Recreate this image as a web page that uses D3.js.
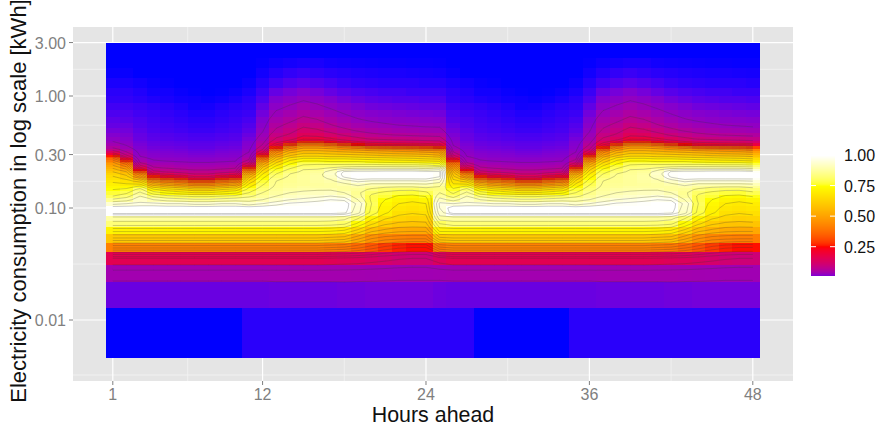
<!DOCTYPE html>
<html><head><meta charset="utf-8">
<script src="https://cdn.jsdelivr.net/npm/d3@7/dist/d3.min.js"></script>
<style>html,body{margin:0;padding:0;background:#fff}svg{display:block}text{font-family:"Liberation Sans",Arial,sans-serif}</style>
</head><body><svg id="c" width="876" height="428"></svg>
<script>
const hourTicks=[1,12,24,36,48];
const kwhTicks=[3,1,0.3,0.1,0.01];
const kwhTickLabels=["3.00","1.00","0.30","0.10","0.01"];
const legendTicks=[1,0.75,0.5,0.25];
const legendRange=[0.022,1];
// kWh edges of the raster rows, lowest first
const rowEdges=[.0046,.0128,.022,.0312,.0404,.0496,.0588,.068,.0772,.0864,.0956,.1048,.114,.1232,.1324,.1416,.1508,.16,.1692,.1784,.1876,.1968,.206,.2152,.2244,.2336,.2428,.252,.2612,.2704,.2796,.2888,.298,.31,.325,.34,.36,.38,.40,.43,.47,.52,.58,.66,.76,.88,1.0,1.2,1.45,1.8,2.2,3.0];
// lowest row over all 48 hours (per mille density)
const lowestRow=[0,0,0,0,0,0,0,0,0,0,3,3,3,3,3,3,3,3,3,3,3,3,3,3,3,3,3,0,0,0,0,0,0,0,3,3,3,3,3,3,3,3,3,3,3,3,3,3];
// which profile each of the 48 hours shows
const hourProfile=[0,1,2,3,4,5,6,7,8,9,10,11,12,13,14,15,16,17,18,19,20,21,22,23,24,1,2,3,4,5,6,7,8,9,10,11,12,13,14,15,16,17,18,19,20,21,22,23];
// rows 2-11 (up to about 0.105 kWh) per profile, per mille
const lowerRows=[
[14,47,160,420,600,720,830,880,1000,1000],[14,47,160,420,600,720,830,880,1000,1000],[14,47,160,420,600,720,830,880,1000,1000],[14,47,160,420,600,720,830,880,1000,1000],[14,47,160,420,600,720,830,880,1000,1000],
[14,47,160,420,600,720,830,880,1000,1000],[14,47,160,420,600,720,830,880,1000,1000],[14,47,160,420,600,720,830,880,1000,1000],[14,47,160,420,600,720,830,880,1000,1000],[14,47,160,420,600,720,830,880,1000,1000],
[14,47,160,420,600,720,830,880,1000,1000],[14,47,160,420,600,720,830,880,1000,1000],[15,48,160,420,600,720,830,880,1000,1000],[15,48,160,420,600,720,830,880,1000,1000],[15,48,160,420,600,720,830,880,1000,1000],
[15,48,160,420,600,720,830,880,1000,1000],[15,48,155,410,590,715,825,880,1000,1000],[16,48,150,400,580,700,810,870,990,1000],[16,47,145,370,520,640,740,810,920,930],[17,46,135,330,460,570,660,720,780,790],
[17,45,125,290,430,540,610,660,710,720],[17,44,115,265,420,520,590,635,665,685],[17,44,110,255,415,515,585,625,655,675],[17,44,110,255,415,515,590,630,665,685],[15,45,140,400,590,720,800,880,930,950]];
// rows above 0.105 kWh per profile, per mille
const upperRows=[
[940,860,800,770,750,730,710,690,670,650,630,600,570,540,510,480,450,410,370,320,260,190,140,90,62,46,36,29,22,17,13,11,8,6,4,3,1.5,.5,0,0],
[950,880,830,790,760,730,700,670,640,610,580,550,510,470,430,390,340,270,210,160,120,90,70,52,40,32,27,23,19,16,13,10,8,6,4,3,1.5,.5,0,0],
[960,930,900,860,820,760,690,630,550,470,410,320,240,170,120,85,65,52,44,38,33,29,26,23,20,18,16,14,13,11,9,8,6,5,3,2,1,0,0,0],
[960,900,840,770,710,630,550,460,350,260,180,125,95,75,60,50,42,36,32,28,25,23,20,18,16,14,13,11,10,8,7,6,5,4,2,1,.5,0,0,0],
[950,880,810,740,670,590,500,410,300,210,150,105,82,65,54,45,38,33,29,26,23,21,19,17,15,13,12,10,9,7,6,5,4,3,1.5,1,.3,0,0,0],
[950,870,800,720,650,560,470,380,270,190,130,95,75,60,50,42,36,31,28,25,22,20,18,16,14,12,11,9,8,6,5,4,3,2,1,.5,0,0,0,0],
[940,860,790,700,620,530,430,320,210,150,110,85,68,56,47,40,34,29,26,23,20,18,16,14,12,11,10,8,7,5,4,3,2,1,.8,.2,0,0,0,0],
[940,860,790,700,620,530,430,320,210,150,110,85,68,56,47,40,34,29,26,23,20,18,16,14,12,11,10,8,7,5,4,3,2,1.2,.5,0,0,0,0,0],
[950,870,800,720,650,560,470,380,270,190,130,95,75,60,50,42,36,31,28,25,22,20,18,16,14,12,11,9,8,6,5,4,3,2,.8,.2,0,0,0,0],
[950,880,810,740,670,590,500,410,300,210,150,105,82,65,54,45,38,33,29,26,23,21,19,17,15,13,12,10,9,7,6,5,4,3,1.5,.6,0,0,0,0],
[930,880,840,800,770,740,700,660,620,570,510,440,360,270,190,135,100,78,62,52,45,40,34,29,25,22,20,17,14,11,9,7,5,4,3,1.5,.6,0,0,0],
[950,900,870,850,830,810,790,770,750,725,700,670,640,610,570,530,490,440,390,330,270,200,150,110,85,70,58,48,40,32,26,21,16,12,8,5,2.5,1,.3,0],
[970,930,900,880,870,860,855,850,840,820,800,780,760,730,700,670,640,610,580,550,510,470,430,350,260,185,145,115,95,75,62,50,38,28,20,13,6,2.5,.8,0],
[985,950,920,900,885,870,865,860,860,855,850,830,810,790,770,750,725,700,670,640,600,570,530,480,410,280,190,140,115,95,78,62,48,36,26,17,9,4,1.2,0],
[990,960,930,910,890,880,870,870,870,870,865,860,850,830,810,790,770,740,710,670,640,610,570,530,480,390,270,190,150,125,100,78,60,45,32,21,11,5,1.5,0],
[995,970,940,915,895,880,875,880,885,885,880,870,855,835,815,795,770,740,710,670,640,610,570,530,480,390,270,185,145,115,90,70,52,38,27,17,9,4,1.5,0],
[1000,980,950,920,895,880,880,890,905,920,930,920,890,850,820,790,760,730,700,660,630,600,560,520,460,350,230,165,125,95,72,55,42,30,21,13,7,3,1,0],
[1000,975,935,900,880,880,895,925,965,990,995,985,940,870,825,790,760,730,700,660,630,590,550,500,430,290,190,140,105,78,58,44,33,24,16,10,5,2.5,.8,0],
[940,900,870,860,870,890,920,960,990,1000,1000,990,950,880,830,790,760,730,690,650,620,580,540,490,400,250,165,120,90,65,48,36,27,19,13,8,4,2,.7,0],
[800,790,790,810,840,870,900,945,985,1000,1000,990,950,880,830,790,750,720,680,640,610,570,530,470,350,210,145,105,78,56,42,31,23,16,11,7,3.5,1.8,.6,0],
[730,750,770,790,820,860,900,945,985,1000,1000,995,950,880,830,780,745,710,670,640,600,560,520,460,340,200,140,100,72,52,38,28,21,15,10,6,3,1.5,.5,0],
[700,720,745,775,810,855,900,945,985,1000,1000,995,950,880,825,780,740,705,665,630,595,555,510,450,330,195,135,95,68,48,35,26,19,14,9,6,3,1.5,.5,0],
[690,710,740,770,810,855,900,945,985,1000,1000,995,950,880,825,780,740,700,660,625,590,550,505,445,320,190,130,92,65,46,33,25,18,13,9,5,3,1.3,.4,0],
[700,725,755,790,825,865,905,950,985,1000,1000,990,940,870,820,770,730,690,650,615,580,540,490,420,300,180,125,88,62,43,31,23,17,12,8,5,2.5,1.2,.4,0],
[960,920,880,850,840,850,880,920,960,985,990,985,950,890,800,760,720,680,640,600,560,520,480,410,270,170,120,85,60,42,30,22,16,12,8,5,2.5,1,.3,0]];
const contourLevels=[.035,.07,.11,.16,.2,.25,.3,.35,.4,.45,.5,.55,.6,.65,.7,.75,.8,.85,.9,.95,.98];

const svg=d3.select("#c");
const panel={l:73,r:793,t:27,b:381};
const x=d3.scaleLinear().domain([1,48]).range([112.8,752.8]);
const y=d3.scaleLog().domain([0.01,1]).range([320,96]);
const hours=d3.range(1,49);
const colorHigh=d3.scaleLinear().domain([.25,.75,1]).range(["red","yellow","white"]).interpolate(d3.interpolateLab);
const colorLow=d3.interpolateLab("blue","red");
const lowT=v=>v>=.02?Math.pow(v/.25,2/3):Math.pow(.02/.25,2/3)*Math.pow(Math.max(v,0)/.02,1.2);
const fill=v=>v<.25?colorLow(lowT(v)):colorHigh(v);

const cellValue=(h,r)=>{
  if(r===0) return lowestRow[h]/1000;
  const p=hourProfile[h];
  return (r<=10?lowerRows[p][r-1]:upperRows[p][r-11])/1000;
};
const nRows=rowEdges.length-1;

svg.append("rect").attr("x",panel.l).attr("y",panel.t).attr("width",panel.r-panel.l).attr("height",panel.b-panel.t).attr("fill","#e5e5e5");
const minorY=[.00323,.0316,.173,.548,1.73];
svg.append("g").selectAll("line").data(minorY).join("line").attr("x1",panel.l).attr("x2",panel.r).attr("y1",d=>y(d)).attr("y2",d=>y(d)).attr("stroke","#f2f2f2").attr("stroke-width",.8);
svg.append("g").selectAll("line").data([6.5,18,30,42]).join("line").attr("y1",panel.t).attr("y2",panel.b).attr("x1",d=>x(d)).attr("x2",d=>x(d)).attr("stroke","#f2f2f2").attr("stroke-width",.8);
svg.append("g").selectAll("line").data(kwhTicks).join("line").attr("x1",panel.l).attr("x2",panel.r).attr("y1",d=>y(d)).attr("y2",d=>y(d)).attr("stroke","#fff").attr("stroke-width",1.2);
svg.append("g").selectAll("line").data(hourTicks).join("line").attr("y1",panel.t).attr("y2",panel.b).attr("x1",d=>x(d)).attr("x2",d=>x(d)).attr("stroke","#fff").attr("stroke-width",1.2);

// raster
const cells=[];
hours.forEach((h,hi)=>{for(let r=0;r<nRows;r++)cells.push({hi,h,r,v:cellValue(hi,r)});});
svg.append("g").attr("shape-rendering","crispEdges").selectAll("rect").data(cells).join("rect")
 .attr("x",d=>x(d.h-.5)).attr("width",d=>x(d.h+.5)-x(d.h-.5)+.4)
 .attr("y",d=>y(rowEdges[d.r+1])).attr("height",d=>y(rowEdges[d.r])-y(rowEdges[d.r+1])+.4)
 .attr("fill",d=>fill(d.v));

// contours
const flat=[];
for(let r=0;r<nRows;r++)for(let hi=0;hi<48;hi++)flat.push(cellValue(hi,r));
const gridContours=d3.contours().size([48,nRows]).smooth(true).thresholds(contourLevels)(flat);
const rowCenters=d3.range(nRows).map(r=>(y(rowEdges[r])+y(rowEdges[r+1]))/2);
const rowToY=d3.scaleLinear().domain(d3.range(nRows).map(r=>r+.5)).range(rowCenters);
const proj=d3.geoTransform({point(px,py){this.stream.point(x(px+.5),rowToY(py));}});
const path=d3.geoPath(proj);
svg.append("clipPath").attr("id","cl").append("rect").attr("x",x(1)).attr("width",x(48)-x(1)).attr("y",y(3)+1).attr("height",y(rowEdges[0])-y(3)-2);
svg.append("g").attr("clip-path","url(#cl)").selectAll("path").data(gridContours).join("path")
 .attr("d",path).attr("fill","none").attr("stroke","#333").attr("stroke-opacity",.28).attr("stroke-width",.9);

// axes
const tickC="#7f7f7f";
svg.append("g").selectAll("line").data(hourTicks).join("line").attr("x1",d=>x(d)).attr("x2",d=>x(d)).attr("y1",panel.b).attr("y2",panel.b+4).attr("stroke",tickC);
svg.append("g").selectAll("line").data(kwhTicks).join("line").attr("y1",d=>y(d)).attr("y2",d=>y(d)).attr("x1",panel.l-4).attr("x2",panel.l).attr("stroke",tickC);
svg.append("g").selectAll("text").data(hourTicks).join("text").attr("x",d=>x(d)).attr("y",400).attr("text-anchor","middle").attr("font-size",16).attr("fill",tickC).text(d=>d);
svg.append("g").selectAll("text").data(kwhTicks).join("text").attr("x",66).attr("y",d=>y(d)+6).attr("text-anchor","end").attr("font-size",16).attr("fill",tickC).text((d,i)=>kwhTickLabels[i]);
svg.append("text").attr("x",433).attr("y",422).attr("text-anchor","middle").attr("font-size",21.4).attr("fill","#111").text("Hours ahead");
svg.append("text").attr("transform","translate(26,201) rotate(-90)").attr("text-anchor","middle").attr("font-size",22).attr("fill","#111").text("Electricity consumption in log scale [kWh]");

// legend
const lg=d3.scaleLinear().domain([1,.25]).range([155,246.7]);
const legendSteps=d3.range(0,120).map(i=>legendRange[0]+(legendRange[1]-legendRange[0])*i/119);
svg.append("g").attr("shape-rendering","crispEdges").selectAll("rect").data(legendSteps).join("rect")
 .attr("x",811).attr("width",24).attr("y",d=>lg(d)-1).attr("height",2).attr("fill",d=>fill(d));
const lt=svg.append("g");
lt.selectAll("line.a").data(legendTicks).join("line").attr("class","a").attr("x1",811).attr("x2",816).attr("y1",d=>lg(d)).attr("y2",d=>lg(d)).attr("stroke","#fff");
lt.selectAll("line.b").data(legendTicks).join("line").attr("class","b").attr("x1",830).attr("x2",835).attr("y1",d=>lg(d)).attr("y2",d=>lg(d)).attr("stroke","#fff");
lt.selectAll("text").data(legendTicks).join("text").attr("x",844).attr("y",d=>lg(d)+6).attr("font-size",16).attr("fill","#111").text(d=>d.toFixed(2));
</script></body></html>
